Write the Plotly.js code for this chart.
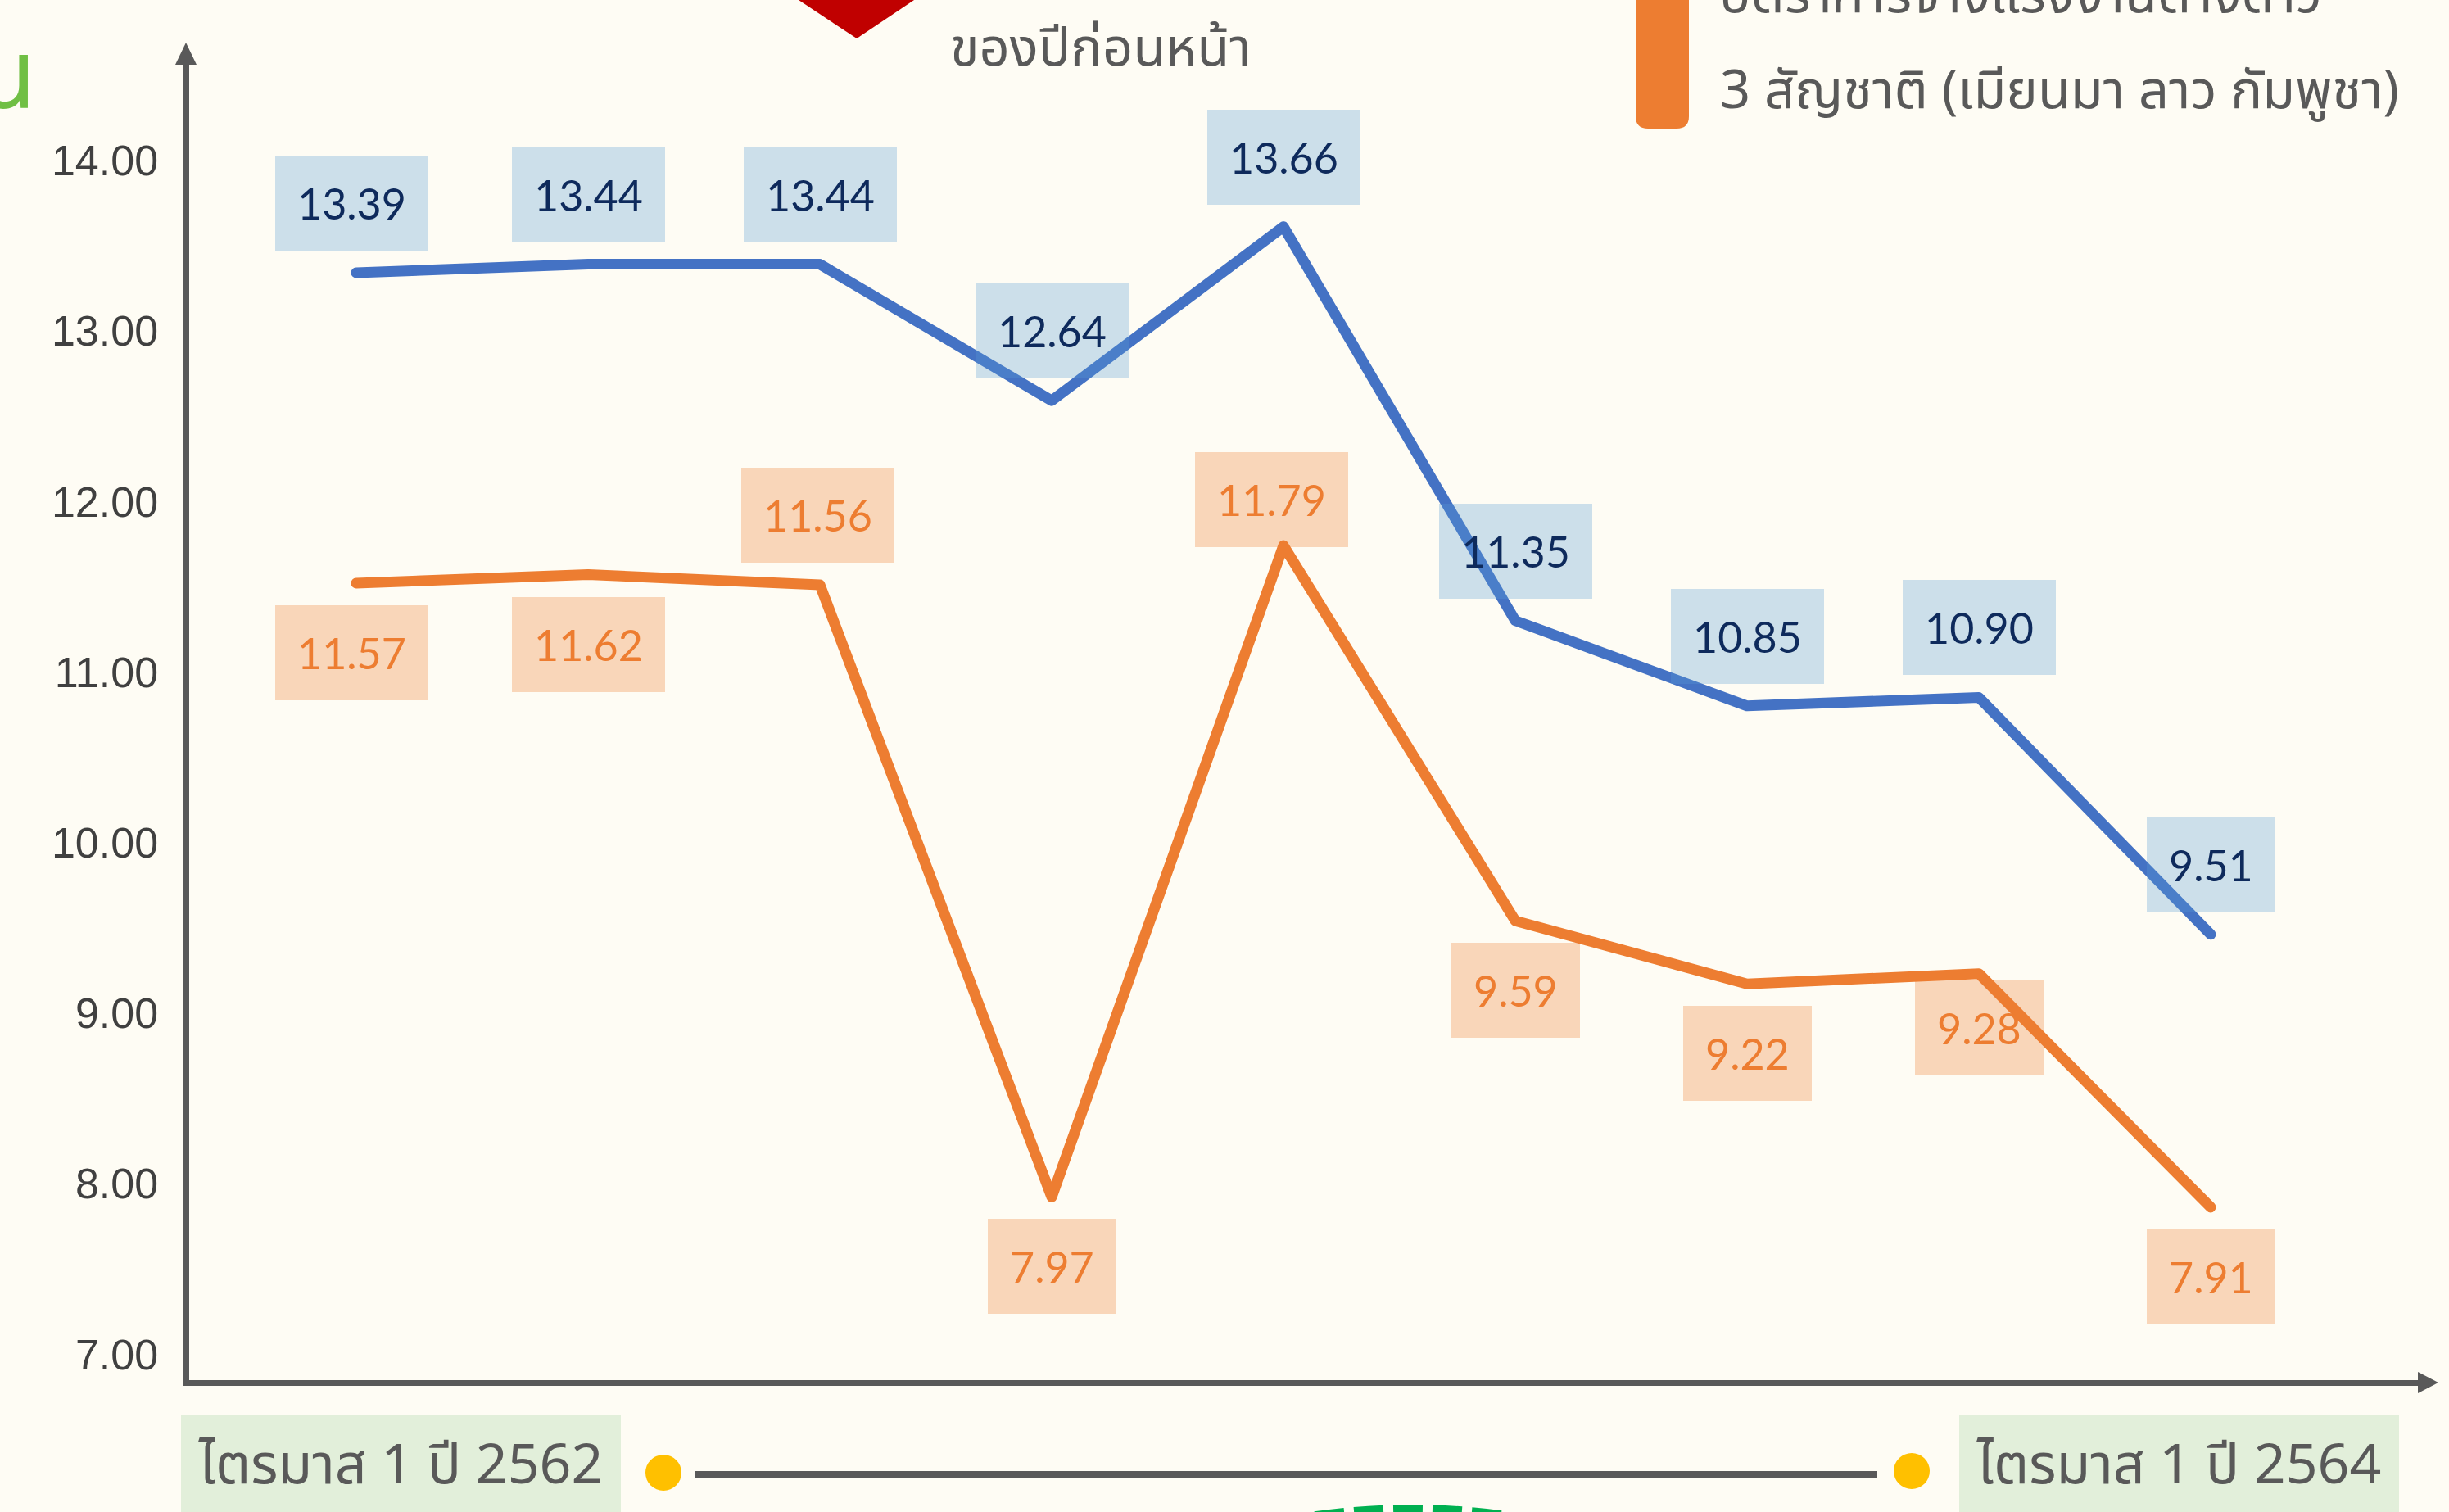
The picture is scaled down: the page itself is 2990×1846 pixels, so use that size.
<!DOCTYPE html>
<html><head><meta charset="utf-8">
<script src="https://cdn.plot.ly/plotly-3.0.1.min.js"></script>
<style>
html,body{margin:0;padding:0;background:#FEFCF4;overflow:hidden;}
#chart{width:2990px;height:1846px;}
.scatterlayer path.js-line{stroke-linejoin:round !important;stroke-linecap:round !important;}
</style>
</head><body><div id="chart"></div>
<script>
// ---- data ----
const quarters = ['Q1/2562','Q2/2562','Q3/2562','Q4/2562','Q1/2563','Q2/2563','Q3/2563','Q4/2563','Q1/2564'];
const seriesBlue = [13.39, 13.44, 13.44, 12.64, 13.66, 11.35, 10.85, 10.90, 9.51];
const seriesOrange = [11.57, 11.62, 11.56, 7.97, 11.79, 9.59, 9.22, 9.28, 7.91];
const yTickValues = [7, 8, 9, 10, 11, 12, 13, 14];
const yTickLabels = ['7.00', '8.00', '9.00', '10.00', '11.00', '12.00', '13.00', '14.00'];
const headingTail = 'น';
const noteText = 'ของปีก่อนหน้า';
const legendLine1 = 'อัตราการจ้างแรงงานต่างด้าว';
const legendLine2 = '3 สัญชาติ (เมียนมา ลาว กัมพูชา)';
const startLabel = 'ไตรมาส 1 ปี 2562';
const endLabel = 'ไตรมาส 1 ปี 2564';

// ---- label placement (style, pixel offsets) ----
const blueLabelShift = [[-6,85],[0,85],[0,85],[0,85],[0,85],[0,85],[0,85],[0,85],[0,85]];
const orangeLabelShift = [[-6,-85],[0,-85],[-3,85],[0,-85],[-15,56],[0,-85],[0,-85],[0,-66],[0,-85]];

const W = 2990, H = 1846;
const fx = p => p / W;
const fy = p => 1 - p / H;

const BLUE = '#4472C4', ORANGE = '#ED7D31', AXIS = '#595959', THAI_TEXT = '#595959';
const THAI_FONT = '"Noto Sans Thai", "Noto Sans Thai Looped", Sarabun, Loma, Garuda, "Noto Sans", sans-serif';
const NUM_FONT = 'Lato, "Open Sans", sans-serif';

const traces = [
  {x: quarters, y: seriesBlue, type: 'scatter', mode: 'lines', name: 'blue',
   line: {color: BLUE, width: 13}, hoverinfo: 'skip'},
  {x: quarters, y: seriesOrange, type: 'scatter', mode: 'lines', name: legendLine1 + ' ' + legendLine2,
   line: {color: ORANGE, width: 13}, hoverinfo: 'skip'}
];

const annotations = [];
seriesBlue.forEach((v, i) => annotations.push({
  x: quarters[i], y: v, xref: 'x', yref: 'y', text: v.toFixed(2), showarrow: false,
  xshift: blueLabelShift[i][0], yshift: blueLabelShift[i][1],
  font: {family: NUM_FONT, size: 52, color: '#0E2A5C'},
  bgcolor: 'rgba(91,155,213,0.3)', borderpad: 27, borderwidth: 0
}));
seriesOrange.forEach((v, i) => annotations.push({
  x: quarters[i], y: v, xref: 'x', yref: 'y', text: v.toFixed(2), showarrow: false,
  xshift: orangeLabelShift[i][0], yshift: orangeLabelShift[i][1],
  font: {family: NUM_FONT, size: 52, color: ORANGE},
  bgcolor: 'rgba(237,125,49,0.3)', borderpad: 27, borderwidth: 0
}));

// decorative texts
annotations.push(
  {xref: 'paper', yref: 'paper', x: fx(46), y: fy(96), xanchor: 'right', yanchor: 'middle',
   text: headingTail, showarrow: false, font: {family: THAI_FONT, size: 118, color: '#70BF44'}},
  {xref: 'paper', yref: 'paper', x: fx(1158), y: fy(60), xanchor: 'left', yanchor: 'middle',
   text: noteText, showarrow: false, font: {family: THAI_FONT, size: 65, color: THAI_TEXT}},
  {xref: 'paper', yref: 'paper', x: fx(2098), y: fy(-5), xanchor: 'left', yanchor: 'middle',
   text: legendLine1, showarrow: false, font: {family: THAI_FONT, size: 65, color: THAI_TEXT}},
  {xref: 'paper', yref: 'paper', x: fx(2098), y: fy(112), xanchor: 'left', yanchor: 'middle',
   text: legendLine2, showarrow: false, font: {family: THAI_FONT, size: 65, color: THAI_TEXT}},
  {xref: 'paper', yref: 'paper', x: fx(489), y: fy(1790), xanchor: 'center', yanchor: 'middle',
   text: startLabel, showarrow: false, font: {family: THAI_FONT, size: 68, color: THAI_TEXT}},
  {xref: 'paper', yref: 'paper', x: fx(2660), y: fy(1790), xanchor: 'center', yanchor: 'middle',
   text: endLabel, showarrow: false, font: {family: THAI_FONT, size: 68, color: THAI_TEXT}}
);

const P = (pts) => 'M ' + pts.map(p => fx(p[0]) + ' ' + fy(p[1])).join(' L ') + ' Z';
const shapes = [
  // axis arrowheads
  {type: 'path', xref: 'paper', yref: 'paper', path: P([[214,79],[240,79],[227,52]]), fillcolor: AXIS, line: {width: 0}},
  {type: 'path', xref: 'paper', yref: 'paper', path: P([[2952,1675],[2952,1701],[2977,1688]]), fillcolor: AXIS, line: {width: 0}},
  // red down triangle
  {type: 'path', xref: 'paper', yref: 'paper', path: P([[966,-6],[1125,-6],[1046,47]]), fillcolor: '#C00000', line: {width: 0}},
  // orange legend bar with rounded bottom
  {type: 'path', xref: 'paper', yref: 'paper',
   path: 'M ' + fx(1997) + ' ' + fy(-10) + ' L ' + fx(2062) + ' ' + fy(-10) + ' L ' + fx(2062) + ' ' + fy(142) +
         ' Q ' + fx(2062) + ' ' + fy(157) + ' ' + fx(2047) + ' ' + fy(157) + ' L ' + fx(2012) + ' ' + fy(157) +
         ' Q ' + fx(1997) + ' ' + fy(157) + ' ' + fx(1997) + ' ' + fy(142) + ' Z',
   fillcolor: ORANGE, line: {width: 0}},
  // bottom timeline
  {type: 'rect', xref: 'paper', yref: 'paper', x0: fx(221), x1: fx(758), y0: fy(1727), y1: fy(1870), fillcolor: '#E2EFDA', line: {width: 0}, layer: 'below'},
  {type: 'rect', xref: 'paper', yref: 'paper', x0: fx(2392), x1: fx(2929), y0: fy(1727), y1: fy(1870), fillcolor: '#E2EFDA', line: {width: 0}, layer: 'below'},
  {type: 'line', xref: 'paper', yref: 'paper', x0: fx(849), x1: fx(2292), y0: fy(1800), y1: fy(1800), line: {color: AXIS, width: 8}},
  {type: 'circle', xref: 'paper', yref: 'paper', x0: fx(788), x1: fx(832), y0: fy(1776), y1: fy(1820), fillcolor: '#FFC000', line: {width: 0}},
  {type: 'circle', xref: 'paper', yref: 'paper', x0: fx(2312), x1: fx(2356), y0: fy(1774), y1: fy(1818), fillcolor: '#FFC000', line: {width: 0}},
  {type: 'circle', xref: 'paper', yref: 'paper', x0: fx(1723 - 840), x1: fx(1723 + 840), y0: fy(1843), y1: fy(1843 + 1680),
   line: {color: '#00B050', width: 12, dash: '36px,12px'}}
];

const layout = {
  width: W, height: H,
  margin: {l: 0, r: 0, t: 0, b: 0, pad: 0},
  paper_bgcolor: '#FEFCF4', plot_bgcolor: '#FEFCF4',
  showlegend: false,
  xaxis: {type: 'category', domain: [230.5 / W, 2953 / W], range: [(230.5 - 435) / 283, (2953 - 435) / 283],
          showline: true, linecolor: AXIS, linewidth: 7, showgrid: false, zeroline: false,
          showticklabels: false, ticks: '', fixedrange: true},
  yaxis: {domain: [1 - 1684.5 / H, 1 - 78 / H], range: [14 - (1684.5 - 206) / 208.2, 14 + (206 - 78) / 208.2],
          tickmode: 'array', tickvals: yTickValues, ticktext: yTickLabels,
          showline: true, linecolor: AXIS, linewidth: 7, showgrid: false, zeroline: false, ticks: '',
          tickfont: {family: '"Liberation Sans", Arial, sans-serif', size: 52, color: '#404040'},
          ticklabelstandoff: 20, ticklabelshift: -10, fixedrange: true},
  annotations: annotations,
  shapes: shapes
};

Plotly.newPlot('chart', traces, layout, {displayModeBar: false, staticPlot: true});
</script>
</body></html>
